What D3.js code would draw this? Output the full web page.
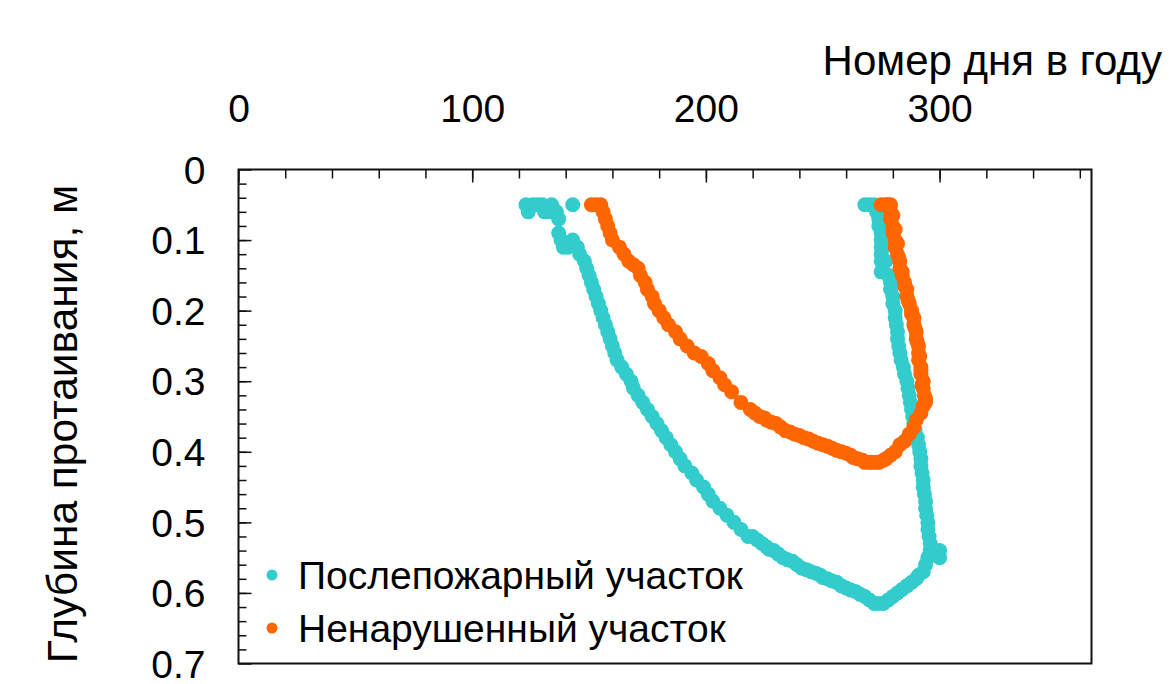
<!DOCTYPE html>
<head>
  <meta charset="utf-8">
  <title>Thaw depth</title>
  <script src="https://d3js.org/d3.v7.min.js"></script>
  <style>
    body { margin: 0; background: #fff; }
    text { font-family: "Liberation Sans", Arial, sans-serif; fill: #000; }
    .frame { fill: none; stroke: #111; stroke-width: 2; }
    .tick line { stroke: #111; stroke-width: 1.5; }
    .domain { display: none; }
  </style>
</head>
<body>
<script>
// burnt site (teal): thaw front, day of year / depth (m)
var burntThawDay = [123, 124, 126, 128, 130, 131, 133, 134, 136, 137, 137, 138, 139, 141, 143,
  143, 145, 146, 148, 149, 150, 151, 152, 153, 154, 155, 156, 157, 158, 159, 160, 161, 162,
  164, 166, 168, 169, 171, 173, 175, 177, 179, 181, 183, 185, 187, 189, 191, 194, 196, 199,
  201, 203, 206, 209, 212, 215, 218, 220, 222, 224, 226, 227, 229, 231, 233, 235, 237, 239,
  241, 243, 245, 247, 249, 250, 252, 254, 256, 258, 260, 262, 264, 266, 268, 270, 272, 274,
  276, 278, 280, 282, 284, 286, 288, 290, 291, 293, 294, 295, 296, 300, 300];
var burntThawDepth = [0.05, 0.06, 0.05, 0.05, 0.05, 0.06, 0.06, 0.05, 0.06, 0.07, 0.09, 0.10, 0.11, 0.11, 0.05,
  0.10, 0.11, 0.12, 0.13, 0.14, 0.15, 0.16, 0.17, 0.18, 0.19, 0.20, 0.21, 0.22, 0.23, 0.24, 0.25, 0.26, 0.27,
  0.28, 0.29, 0.30, 0.31, 0.32, 0.33, 0.34, 0.35, 0.36, 0.37, 0.38, 0.39, 0.40, 0.41, 0.42, 0.43, 0.44, 0.45,
  0.46, 0.47, 0.48, 0.49, 0.50, 0.51, 0.52, 0.52, 0.525, 0.53, 0.535, 0.538, 0.54, 0.545, 0.55, 0.553, 0.555, 0.56,
  0.565, 0.567, 0.57, 0.572, 0.575, 0.578, 0.58, 0.583, 0.585, 0.59, 0.593, 0.596, 0.598, 0.602, 0.605, 0.61, 0.615, 0.615,
  0.615, 0.61, 0.605, 0.60, 0.595, 0.59, 0.585, 0.58, 0.575, 0.57, 0.56, 0.55, 0.54, 0.54, 0.55];
// burnt site: freeze front from the surface
var burntFreezeDay = [268, 270, 272, 273, 274, 274, 275, 275, 275, 275, 275, 275, 276, 276, 276, 277, 278,
  279, 279, 280, 280, 281, 281, 281.5, 282, 282, 282.5, 283, 283.5, 284.5, 285, 286, 286.5, 287, 287.5,
  288, 288.5, 289, 289.5, 290.5, 291, 291.5, 292, 292, 292.5, 293, 293, 293.5, 294, 294, 294.5, 295, 295, 295.5, 296];
var burntFreezeDepth = [0.05, 0.05, 0.05, 0.06, 0.07, 0.08, 0.09, 0.10, 0.11, 0.12, 0.13, 0.145, 0.07, 0.09, 0.11, 0.13, 0.15,
  0.16, 0.17, 0.18, 0.19, 0.20, 0.21, 0.22, 0.23, 0.24, 0.25, 0.26, 0.27, 0.28, 0.29, 0.30, 0.31, 0.32, 0.33,
  0.34, 0.35, 0.36, 0.37, 0.38, 0.39, 0.40, 0.41, 0.42, 0.43, 0.44, 0.45, 0.46, 0.47, 0.48, 0.49, 0.50, 0.51, 0.52, 0.53];

// undisturbed site (orange): thaw front
var intactThawDay = [151, 153, 155, 156, 157, 158, 159, 160, 163, 165, 167, 169, 171, 172, 174, 175, 177, 178,
  180, 182, 184, 187, 189, 192, 195, 198, 201, 203, 206, 208, 211, 215, 219, 221, 223, 225, 226, 228, 230,
  232, 234, 236, 238, 240, 242, 244, 246, 248, 250, 252, 254, 256, 258, 260, 262, 263, 265, 267, 268, 270,
  271, 273, 274, 276, 277, 279, 281, 283, 285, 287, 289, 290, 292, 293, 294];
var intactThawDepth = [0.05, 0.05, 0.05, 0.06, 0.07, 0.08, 0.09, 0.10, 0.11, 0.12, 0.13, 0.135, 0.14, 0.15, 0.16, 0.17, 0.18, 0.19,
  0.20, 0.21, 0.22, 0.23, 0.24, 0.25, 0.26, 0.265, 0.275, 0.285, 0.295, 0.305, 0.315, 0.33, 0.34, 0.345, 0.35, 0.352, 0.355, 0.358, 0.36,
  0.365, 0.37, 0.372, 0.375, 0.377, 0.38, 0.382, 0.385, 0.388, 0.39, 0.392, 0.395, 0.398, 0.40, 0.402, 0.405, 0.408, 0.41, 0.412, 0.415, 0.415,
  0.415, 0.415, 0.415, 0.412, 0.41, 0.405, 0.40, 0.39, 0.385, 0.375, 0.365, 0.355, 0.345, 0.335, 0.325];
// undisturbed site: freeze front
var intactFreezeDay = [275, 277, 278, 279, 279, 279, 280, 280, 280, 281, 281, 281, 282, 282, 282.5, 283, 283, 284,
  284, 285, 285, 286, 286, 286.5, 287, 288, 288, 289, 289, 289.5, 290, 290, 290.5, 291, 291, 291, 291.5,
  292, 292, 292, 292.5, 293, 293, 293.5, 294];
var intactFreezeDepth = [0.05, 0.05, 0.05, 0.05, 0.06, 0.07, 0.065, 0.08, 0.09, 0.085, 0.10, 0.11, 0.105, 0.12, 0.125, 0.13, 0.14, 0.145,
  0.15, 0.16, 0.165, 0.17, 0.18, 0.185, 0.19, 0.20, 0.205, 0.21, 0.22, 0.225, 0.23, 0.24, 0.245, 0.25, 0.26, 0.27, 0.265,
  0.28, 0.285, 0.29, 0.305, 0.30, 0.31, 0.32, 0.33];

var xTicks = [0, 100, 200, 300];
var yTicks = [0, 0.1, 0.2, 0.3, 0.4, 0.5, 0.6, 0.7];
var seriesNames = ["Послепожарный участок", "Ненарушенный участок"];
var seriesColors = ["#33cccc", "#ff6600"];

var width = 1172, height = 684,
    mLeft = 238.5, mRight = 1091.5, mTop = 169.5, mBottom = 663.5;

var svg = d3.select("body").append("svg")
    .attr("width", width)
    .attr("height", height);

var x = d3.scaleLinear().domain([0, 365]).range([mLeft, mRight]),
    y = d3.scaleLinear().domain([0, 0.7]).range([mTop, mBottom]);

// minor ticks, inward
svg.append("g")
    .attr("transform", "translate(0," + mTop + ")")
    .call(d3.axisTop(x).tickValues(d3.range(20, 365, 20)).tickSize(-9).tickFormat(""));
svg.append("g")
    .attr("transform", "translate(" + mLeft + ",0)")
    .call(d3.axisLeft(y).tickValues(d3.range(1, 35).map(function(i) { return i * 0.02; })).tickSize(-8).tickFormat(""));

// major ticks + labels
var xAxis = svg.append("g")
    .attr("transform", "translate(0," + mTop + ")")
    .call(d3.axisTop(x).tickValues(xTicks).tickSize(-13).tickFormat(d3.format("d")));
xAxis.selectAll("text")
    .attr("y", -48)
    .attr("dy", 0)
    .style("font-size", "39px");

var yAxis = svg.append("g")
    .attr("transform", "translate(" + mLeft + ",0)")
    .call(d3.axisLeft(y).tickValues(yTicks).tickSize(-13).tickFormat(function(d) { return d === 0 ? "0" : d3.format(".1f")(d); }));
yAxis.selectAll("text")
    .attr("x", -33)
    .attr("dy", "0.35em")
    .style("font-size", "39px");

svg.append("rect")
    .attr("class", "frame")
    .attr("x", mLeft)
    .attr("y", mTop)
    .attr("width", mRight - mLeft)
    .attr("height", mBottom - mTop);

// axis titles
svg.append("text")
    .attr("x", 1162)
    .attr("y", 75)
    .attr("text-anchor", "end")
    .style("font-size", "42px")
    .text("Номер дня в году");

svg.append("text")
    .attr("transform", "translate(77,424) rotate(-90)")
    .attr("text-anchor", "middle")
    .style("font-size", "42.5px")
    .text("Глубина протаивания, м");

// points
var series = [
  [[burntThawDay, burntThawDepth], [burntFreezeDay, burntFreezeDepth]],
  [[intactThawDay, intactThawDepth], [intactFreezeDay, intactFreezeDepth]]
];
var plot = svg.append("g");
series.forEach(function(site, k) {
  site.forEach(function(s) {
    plot.append("g").selectAll("circle")
        .data(d3.range(s[0].length))
      .enter().append("circle")
        .attr("cx", function(i) { return x(s[0][i]); })
        .attr("cy", function(i) { return y(s[1][i]); })
        .attr("r", 7.5)
        .attr("fill", seriesColors[k]);
  });
});

// legend
var legend = svg.append("g").selectAll("g")
    .data(seriesNames)
  .enter().append("g")
    .attr("transform", function(d, i) { return "translate(272," + (575 + i * 53) + ")"; });
legend.append("circle")
    .attr("r", 5.5)
    .attr("fill", function(d, i) { return seriesColors[i]; });
legend.append("text")
    .attr("x", 26)
    .attr("dy", "0.35em")
    .style("font-size", "39px")
    .text(function(d) { return d; });
</script>
</body>
